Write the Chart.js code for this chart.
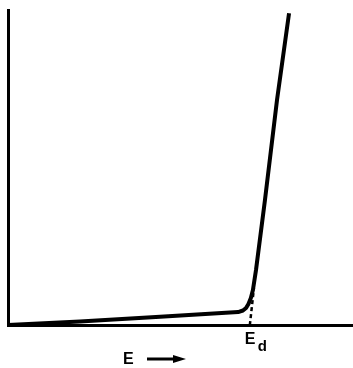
<!DOCTYPE html>
<html>
<head>
<meta charset="utf-8">
<script src="https://cdn.jsdelivr.net/npm/chart.js@4"></script>
<style>
  html, body { margin: 0; padding: 0; background: #fff; }
  canvas { display: block; }
</style>
</head>
<body>
<canvas id="myChart" width="353" height="368"></canvas>
<script>
// energy (arbitrary units, 0..100) and response (0..100)
var energy = [0, 20.9, 44.2, 66.9, 68.3, 69.2, 69.9, 70.6, 71.2, 72.1, 74.7, 78.2, 81.7];
var response = [0, 1.1, 2.6, 4.1, 4.6, 5.4, 6.7, 8.6, 11.1, 17.5, 39.7, 71.4, 99.0];
// extrapolation of the steep part down to the axis
var extrapE = [70.3, 71.5];
var extrapR = [0, 11.7];
var edLabel = "E";
var edSub = "d";
var axisLabel = "E";

function pts(xs, ys) {
  var out = [];
  for (var i = 0; i < xs.length; i++) out.push({x: xs[i], y: ys[i]});
  return out;
}

// text labels placed through the scales
var labelsPlugin = {
  id: 'labels',
  afterDraw: function(chart) {
    var c = chart.ctx;
    var xs = chart.scales.x;
    var bottom = chart.chartArea.bottom;
    c.save();
    c.fillStyle = '#000';
    c.strokeStyle = '#000';
    c.textBaseline = 'alphabetic';
    c.textAlign = 'left';
    // E_d under the dotted line
    var xd = xs.getPixelForValue(extrapE[0]);
    c.font = 'bold 16px "Liberation Sans"';
    c.fillText(edLabel, xd - 5, bottom + 19);
    c.font = 'bold 15px "Liberation Sans"';
    c.fillText(edSub, xd + 8, bottom + 26);
    // E --> below the axis
    c.font = 'bold 16px "Liberation Sans"';
    c.fillText(axisLabel, 123, bottom + 39);
    c.lineWidth = 3;
    c.beginPath();
    c.moveTo(147, bottom + 34);
    c.lineTo(176, bottom + 34);
    c.stroke();
    c.beginPath();
    c.moveTo(186, bottom + 34);
    c.lineTo(173, bottom + 30);
    c.lineTo(173, bottom + 38);
    c.closePath();
    c.fill();
    c.restore();
  }
};

new Chart(document.getElementById('myChart'), {
  type: 'scatter',
  data: {
    datasets: [
      {
        data: pts(energy, response),
        showLine: true,
        borderColor: '#000',
        borderWidth: 4,
        borderJoinStyle: 'round',
        pointRadius: 0,
        tension: 0,
        clip: false
      },
      {
        data: pts(extrapE, extrapR),
        showLine: true,
        borderColor: '#000',
        borderWidth: 2.5,
        borderDash: [4, 3],
        pointRadius: 0,
        clip: false
      }
    ]
  },
  plugins: [labelsPlugin],
  options: {
    responsive: false,
    animation: false,
    layout: { padding: { left: 8, right: 1, top: 10, bottom: 43 } },
    plugins: { legend: { display: false }, tooltip: { enabled: false } },
    scales: {
      x: {
        type: 'linear', min: 0, max: 100,
        grid: { display: false, drawTicks: false },
        ticks: { display: false },
        border: { display: true, color: '#000', width: 3 }
      },
      y: {
        type: 'linear', min: 0, max: 100,
        grid: { display: false, drawTicks: false },
        ticks: { display: false },
        border: { display: true, color: '#000', width: 3 }
      }
    }
  }
});
</script>
</body>
</html>
